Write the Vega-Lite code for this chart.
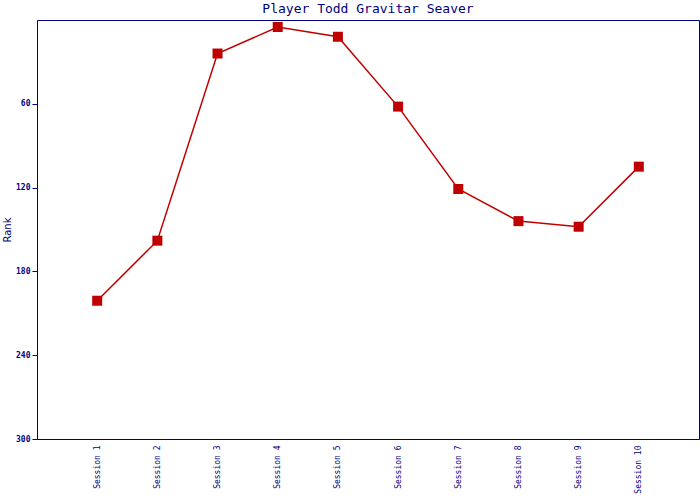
{
  "$schema": "https://vega.github.io/schema/vega-lite/v6.json",
  "autosize": "none",
  "width": 662,
  "height": 419,
  "padding": {"left": 37, "top": 20, "right": 1, "bottom": 61},
  "background": "white",
  "title": {
    "text": "Player Todd Gravitar Seaver",
    "font": "DejaVu Sans Mono",
    "fontSize": 13,
    "fontWeight": "normal",
    "color": "#000080",
    "offset": 4
  },
  "config": {
    "view": {"stroke": "#000080", "strokeWidth": 1},
    "axis": {
      "labelFont": "DejaVu Sans Mono",
      "titleFont": "DejaVu Sans",
      "labelColor": "#000080",
      "titleColor": "#000080",
      "domainColor": "#000080",
      "tickColor": "#000080",
      "grid": false
    }
  },
  "data": {
    "values": [
      {"session": "Session 1", "rank": 201},
      {"session": "Session 2", "rank": 158},
      {"session": "Session 3", "rank": 24},
      {"session": "Session 4", "rank": 5},
      {"session": "Session 5", "rank": 12},
      {"session": "Session 6", "rank": 62},
      {"session": "Session 7", "rank": 121},
      {"session": "Session 8", "rank": 144},
      {"session": "Session 9", "rank": 148},
      {"session": "Session 10", "rank": 105}
    ]
  },
  "encoding": {
    "x": {
      "field": "session",
      "type": "ordinal",
      "sort": null,
      "scale": {"type": "point", "padding": 1},
      "axis": {
        "title": null,
        "labelAngle": -90,
        "labelFontSize": 8,
        "ticks": false,
        "labelPadding": 6,
        "domain": false
      }
    },
    "y": {
      "field": "rank",
      "type": "quantitative",
      "scale": {"domain": [0, 300], "reverse": true, "nice": false},
      "axis": {
        "title": "Rank",
        "titleFontSize": 10,
        "titleFontWeight": "normal",
        "titlePadding": 3,
        "values": [60, 120, 180, 240, 300],
        "labelFontSize": 8,
        "labelFontWeight": "bold",
        "tickSize": 5,
        "labelPadding": 2,
        "domain": false
      }
    }
  },
  "layer": [
    {"mark": {"type": "line", "color": "#c00000", "strokeWidth": 1.5}},
    {"mark": {"type": "square", "color": "#c00000", "opacity": 1, "filled": true, "size": 100}}
  ]
}
